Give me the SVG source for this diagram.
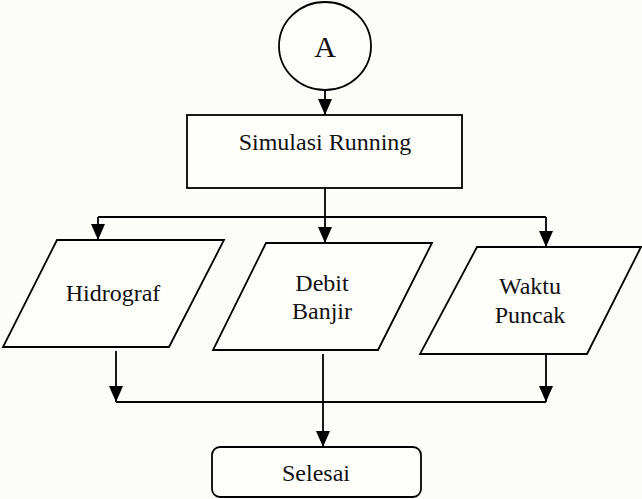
<svg xmlns="http://www.w3.org/2000/svg" width="642" height="499" viewBox="0 0 642 499">
  <defs>
    <marker id="arrow" viewBox="0 0 16 14" refX="16" refY="7" markerWidth="16" markerHeight="14" markerUnits="userSpaceOnUse" orient="auto">
      <path d="M0,0 L16,7 L0,14 Z" fill="#000"/>
    </marker>
    <style>
      .shape { fill: #fdfdfa; stroke: #000; stroke-width: 1.8; }
      .conn { fill: none; stroke: #000; stroke-width: 1.8; }
      .lbl { font-family: "Liberation Serif", "Times New Roman", serif; font-size: 24px; fill: #111; text-anchor: middle; }
    </style>
  </defs>
  <rect width="642" height="499" fill="#fcfcf8"/>

  <g id="connectors">
    <!-- A to Simulasi Running -->
    <path class="conn" d="M325,91 V115" marker-end="url(#arrow)"/>
    <!-- split to the three outputs -->
    <path class="conn" d="M325,188 V217"/>
    <path class="conn" d="M98,217 H546"/>
    <path class="conn" d="M98,217 V240" marker-end="url(#arrow)"/>
    <path class="conn" d="M325,217 V243" marker-end="url(#arrow)"/>
    <path class="conn" d="M546,217 V247" marker-end="url(#arrow)"/>
    <!-- merge to Selesai -->
    <path class="conn" d="M116,351 V402" marker-end="url(#arrow)"/>
    <path class="conn" d="M546,354 V402" marker-end="url(#arrow)"/>
    <path class="conn" d="M116,402 H546"/>
    <path class="conn" d="M323,354 V447" marker-end="url(#arrow)"/>
  </g>

  <g id="node-a">
    <ellipse class="shape" cx="325" cy="46" rx="46" ry="44"/>
    <text class="lbl" x="325" y="57" style="font-size:30px">A</text>
  </g>

  <g id="node-simulasi">
    <rect class="shape" x="187" y="115" width="275" height="73"/>
    <text class="lbl" x="325" y="150">Simulasi Running</text>
  </g>

  <g id="node-hidrograf">
    <polygon class="shape" points="57,240 224,240 169,347 3,347"/>
    <text class="lbl" x="113" y="301">Hidrograf</text>
  </g>

  <g id="node-debit">
    <polygon class="shape" points="266,243 432,243 378,350 213,350"/>
    <text class="lbl" x="322" y="291">Debit</text>
    <text class="lbl" x="322" y="319">Banjir</text>
  </g>

  <g id="node-waktu">
    <polygon class="shape" points="477,247 641,247 587,354 420,354"/>
    <text class="lbl" x="530" y="294">Waktu</text>
    <text class="lbl" x="530" y="323">Puncak</text>
  </g>

  <g id="node-selesai">
    <rect class="shape" x="212" y="447" width="209" height="50" rx="8" ry="8"/>
    <text class="lbl" x="316" y="481">Selesai</text>
  </g>
</svg>
